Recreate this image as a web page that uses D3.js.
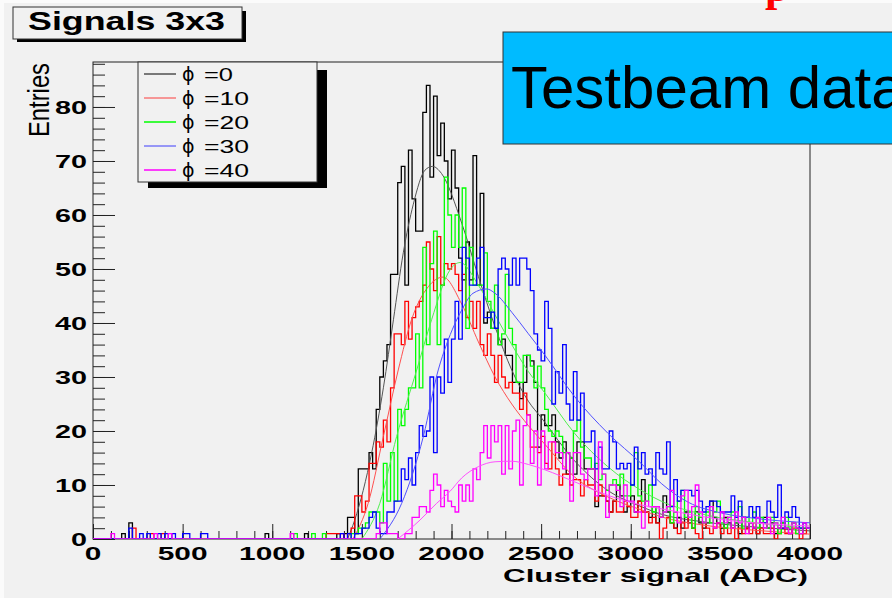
<!DOCTYPE html>
<html>
<head>
<meta charset="utf-8">
<script src="https://cdn.jsdelivr.net/npm/d3@7"></script>
<style>
  body { margin: 0; background: #f1f1f1; }
  svg { display: block; }
</style>
</head>
<body>
<div id="chart"></div>
<script>
// bins are 20 ADC wide, main arrays start at 1300 ADC
var binWidth = 20;
var mainStart = 1300;
var seriesNames = ["\u03d5 =0", "\u03d5 =10", "\u03d5 =20", "\u03d5 =30", "\u03d5 =40"];
var seriesLabels = ["=0", "=10", "=20", "=30", "=40"];
var seriesColors = ["#000000", "#ff0000", "#00ff00", "#0000ff", "#ff00ff"];
var fitColors = ["#555555", "#ff5050", "#50ee50", "#5050ff", "#ff50ff"];

var xTickLabels = [0, 500, 1000, 1500, 2000, 2500, 3000, 3500, 4000];
var yTickLabels = [0, 10, 20, 30, 40, 50, 60, 70, 80];

// sparse counts below 1300 ADC: [bin start, entries]
var lowPhi0 = [[160,1],[200,3],[960,1],[1180,1]];
var lowPhi10 = [[220,2],[320,1],[380,1]];
var lowPhi20 = [[1120,1],[1220,1],[1280,1]];
var lowPhi30 = [[200,2],[260,1],[300,1],[360,1],[400,1],[440,1],[500,1],[520,1],[600,1],[620,1]];
var lowPhi40 = [[100,1],[340,1],[420,1],[1100,1]];

var phi0 = [
  0,0,0,1,0,1,4,4,1,13,
  13,13,16,13,24,30,33,36,49,49,
  66,69,47,72,63,57,57,79,84,67,
  82,71,77,70,63,72,65,52,48,55,
  48,71,47,64,40,42,39,39,36,37,
  34,34,29,29,26,29,34,33,29,17,
  23,21,21,23,18,15,18,12,15,12,
  18,18,13,13,13,6,8,8,7,5,
  7,10,8,5,6,8,5,7,11,5,
  4,6,3,4,8,5,3,2,4,2,
  5,3,2,5,3,2,3,7,4,3,
  2,4,3,2,3,1,4,2,3,2,
  1,3,4,2,3,1,2,3,2,1,
  3,2,1,2,2];
var phi10 = [
  1,1,1,1,1,0,1,2,8,8,
  5,7,14,14,18,17,22,18,28,38,
  38,36,44,37,41,43,44,47,55,50,
  46,56,47,51,50,51,49,46,49,41,
  44,39,44,36,34,38,34,29,34,30,
  28,29,27,27,24,27,23,17,17,16,
  19,14,13,18,13,10,12,12,10,11,
  11,8,11,10,10,7,10,8,7,5,
  7,5,5,7,6,4,4,7,5,5,
  3,4,3,0,2,4,3,2,1,3,
  2,4,2,1,0,3,2,1,2,3,
  1,2,1,2,0,2,1,2,1,3,
  1,2,1,1,2,0,1,2,1,1,
  2,1,0,1,2];
var phi20 = [
  0,0,0,0,0,0,0,1,1,2,
  2,3,5,5,5,3,14,7,16,7,
  24,21,24,28,28,38,28,54,36,51,
  57,36,47,67,60,54,60,54,65,39,
  54,47,47,47,53,44,39,47,36,38,
  49,39,36,29,29,34,34,32,28,32,
  28,24,20,19,20,19,16,16,15,20,
  22,17,15,15,13,14,11,12,9,10,
  11,10,12,8,8,10,16,8,7,7,
  10,5,6,4,5,6,3,5,7,9,
  4,5,2,6,4,3,5,3,5,7,
  3,2,4,5,3,6,2,4,3,5,
  2,4,3,2,4,3,1,3,4,2,
  3,1,2,3,2];
var phi30 = [
  0,0,0,0,1,0,1,0,1,1,
  2,2,4,5,2,1,1,5,5,7,
  7,13,11,15,10,16,21,19,20,30,
  16,30,27,37,29,37,44,37,54,52,
  47,47,52,54,41,41,42,39,50,52,
  50,47,52,47,52,52,50,46,38,35,
  33,44,39,25,31,27,36,25,22,31,
  22,27,18,18,20,13,17,13,13,20,
  18,13,14,13,14,10,17,13,16,12,
  13,10,16,13,12,18,6,11,7,9,
  9,9,8,9,7,5,6,7,7,6,
  5,5,5,8,4,7,4,4,6,4,
  6,3,3,7,5,4,10,2,5,4,
  6,4,2,3,2];
var phi40 = [
  0,0,0,0,0,0,0,0,0,0,
  0,0,0,0,1,3,3,1,1,1,
  0,0,1,1,4,4,6,6,5,9,
  12,10,6,9,7,6,5,10,7,10,
  7,13,11,16,21,15,21,18,21,12,
  21,13,20,22,10,21,23,14,20,10,
  20,13,18,18,16,16,13,16,7,16,
  16,12,11,13,13,8,18,12,4,10,
  10,9,6,10,7,7,5,5,2,7,
  6,6,6,4,5,6,9,5,3,8,
  9,4,6,10,5,3,4,6,2,3,
  5,3,4,2,5,3,4,1,3,2,
  4,3,2,4,1,3,2,4,2,1,
  3,2,1,3,2];

// fitted curves as [ADC, entries]
var fitPhi0 = [[1420,0],[1460,3.5],[1555,16],[1620,28],[1676,40.6],[1731,53],[1787,62],[1852,68.3],[1894,69],[1944,67.7],[2057,58.5],[2150,48.6],[2243,39.3],[2336,31.3],[2429,25.5],[2500,22.5],[2686,14.5],[2872,9],[3058,6],[3170,4.6],[3400,3.2],[3700,2.2],[4000,1.5]];
var fitPhi10 = [[1450,0],[1535,6.6],[1620,19],[1703,31.3],[1777,40.6],[1870,46.7],[1953,48.5],[2057,43.5],[2150,36.5],[2243,30],[2336,25],[2429,21],[2522,17.5],[2686,11.5],[2872,7.8],[3058,5.4],[3170,4.1],[3400,2.6],[3700,1.6],[4000,0.9]];
var fitPhi20 = [[1500,0],[1600,6.6],[1694,19],[1806,31.3],[1889,40.6],[1991,49.8],[2048,51.2],[2150,47],[2243,41.5],[2336,36],[2429,31],[2522,27],[2686,19.6],[2872,13.4],[3058,9],[3170,7],[3400,4.6],[3700,3],[4000,2]];
var fitPhi30 = [[1600,0],[1722,6.6],[1843,19],[1926,31.3],[1972,36],[2057,42.4],[2120,45.5],[2196,46.3],[2243,45.5],[2336,42],[2429,38],[2522,34],[2686,26.4],[2872,19.6],[3058,14],[3170,10.3],[3321,6.8],[3507,4.8],[3700,3.8],[4000,3]];
var fitPhi40 = [[1700,0],[1824,3.5],[1917,6.6],[1991,8.8],[2057,11.3],[2150,13.4],[2243,14.3],[2336,14.4],[2429,13.8],[2522,12.8],[2686,10.6],[2872,8.1],[3058,6.3],[3170,5.6],[3507,3.6],[4000,2.4]];

var mainData = [phi0, phi10, phi20, phi30, phi40];
var lowData = [lowPhi0, lowPhi10, lowPhi20, lowPhi30, lowPhi40];
var fitData = [fitPhi0, fitPhi10, fitPhi20, fitPhi30, fitPhi40];

function buildBins(main, low) {
  var counts = d3.range(0, 4000, binWidth).map(function(a) { return [a, 0]; });
  low.forEach(function(p) { counts[p[0] / binWidth][1] = p[1]; });
  main.forEach(function(v, i) { counts[mainStart / binWidth + i][1] = v; });
  counts.push([4000, counts[counts.length - 1][1]]);
  return counts;
}

function chart() {
  var w = 892;
  var h = 598;
  var left = 93, right = 810, top = 62, bottom = 539;

  var svg = d3.select("#chart")
              .append("svg")
              .attr("width", w)
              .attr("height", h);

  svg.append("rect").attr("width", w).attr("height", h).attr("fill", "#f1f1f1");
  // thin light strips at the picture edge
  svg.append("rect").attr("width", w).attr("height", 3).attr("fill", "#fbfbfb");
  svg.append("rect").attr("width", 4).attr("height", h).attr("fill", "#fbfbfb");

  var x = d3.scaleLinear().domain([0, 4000]).range([left, right]);
  var y = d3.scaleLinear().domain([0, 88.33]).range([bottom, top]);

  svg.append("defs").append("clipPath").attr("id", "plot")
     .append("rect").attr("x", left).attr("y", top)
     .attr("width", right - left).attr("height", bottom - top);

  // frame
  svg.append("rect")
     .attr("x", left).attr("y", top)
     .attr("width", right - left).attr("height", bottom - top)
     .attr("fill", "none").attr("stroke", "#222").attr("stroke-width", 1);

  // y ticks point into the frame
  var yMinor = d3.axisRight(y).tickValues(d3.range(0, 89, 2)).tickSize(12).tickFormat("");
  var yMajor = d3.axisRight(y).tickValues(yTickLabels).tickSize(22).tickFormat("");
  [yMinor, yMajor].forEach(function(ax) {
    var g = svg.append("g").attr("transform", "translate(" + left + ",0)").call(ax);
    g.select(".domain").remove();
    g.selectAll("line").attr("stroke", "#222");
  });
  var xMinor = d3.axisTop(x).tickValues(d3.range(0, 4001, 100)).tickSize(8).tickFormat("");
  var xMajor = d3.axisTop(x).tickValues(xTickLabels).tickSize(15).tickFormat("");
  [xMinor, xMajor].forEach(function(ax) {
    var g = svg.append("g").attr("transform", "translate(0," + bottom + ")").call(ax);
    g.select(".domain").remove();
    g.selectAll("line").attr("stroke", "#222");
  });

  // tick labels (bold and wide, as in the picture)
  svg.selectAll(".ylab").data(yTickLabels).enter().append("text")
     .attr("x", 87).attr("y", function(d) { return y(d) + 7; })
     .attr("text-anchor", "end")
     .attr("font-family", "Liberation Sans, Arial, sans-serif")
     .attr("font-weight", "bold").attr("font-size", 19)
     .attr("textLength", function(d) { return String(d).length * 16; })
     .attr("lengthAdjust", "spacingAndGlyphs")
     .text(function(d) { return d; });
  svg.selectAll(".xlab").data(xTickLabels).enter().append("text")
     .attr("x", function(d) { return x(d); }).attr("y", 560)
     .attr("text-anchor", "middle")
     .attr("font-family", "Liberation Sans, Arial, sans-serif")
     .attr("font-weight", "bold").attr("font-size", 19)
     .attr("textLength", function(d) { return String(d).length * 16.6; })
     .attr("lengthAdjust", "spacingAndGlyphs")
     .text(function(d) { return d; });

  svg.append("text")
     .attr("x", 808).attr("y", 582)
     .attr("text-anchor", "end")
     .attr("font-family", "Liberation Sans, Arial, sans-serif")
     .attr("font-weight", "bold").attr("font-size", 19)
     .attr("textLength", 305).attr("lengthAdjust", "spacingAndGlyphs")
     .text("Cluster signal (ADC)");

  svg.append("text")
     .attr("transform", "translate(49,63) rotate(-90)")
     .attr("text-anchor", "end")
     .attr("font-family", "Liberation Sans, Arial, sans-serif")
     .attr("font-size", 30)
     .attr("textLength", 74).attr("lengthAdjust", "spacingAndGlyphs")
     .text("Entries");

  // histograms with their fits
  var step = d3.line()
               .x(function(d) { return x(d[0]); })
               .y(function(d) { return y(d[1]); })
               .curve(d3.curveStepAfter);
  var smooth = d3.line()
                 .x(function(d) { return x(d[0]); })
                 .y(function(d) { return y(d[1]); })
                 .curve(d3.curveMonotoneX);
  var plot = svg.append("g").attr("clip-path", "url(#plot)");
  for (var i = 0; i < mainData.length; i++) {
    plot.append("path")
        .attr("d", step(buildBins(mainData[i], lowData[i])))
        .attr("fill", "none")
        .attr("stroke", seriesColors[i])
        .attr("stroke-width", 1.3);
    plot.append("path")
        .attr("d", smooth(fitData[i]))
        .attr("fill", "none")
        .attr("stroke", fitColors[i])
        .attr("stroke-width", 1);
  }

  // title box
  svg.append("rect").attr("x", 17).attr("y", 11).attr("width", 229).attr("height", 31).attr("fill", "#000");
  svg.append("rect").attr("x", 13).attr("y", 7).attr("width", 229).attr("height", 32)
     .attr("fill", "#f1f1f1").attr("stroke", "#333");
  svg.append("text")
     .attr("x", 28).attr("y", 30)
     .attr("font-family", "Liberation Sans, Arial, sans-serif")
     .attr("font-weight", "bold").attr("font-size", 25)
     .attr("textLength", 197).attr("lengthAdjust", "spacingAndGlyphs")
     .text("Signals 3x3");

  // legend
  svg.append("rect").attr("x", 148).attr("y", 70).attr("width", 179).attr("height", 118).attr("fill", "#000");
  svg.append("rect").attr("x", 138).attr("y", 62).attr("width", 179).attr("height", 120)
     .attr("fill", "#f1f1f1").attr("stroke", "#333");
  var legend = svg.selectAll(".leg").data(seriesNames).enter().append("g")
                  .attr("transform", function(d, i) { return "translate(0," + (74 + i * 24) + ")"; });
  legend.append("line")
        .attr("x1", 144).attr("x2", 176)
        .attr("stroke", function(d, i) { return seriesColors[i]; })
        .attr("stroke-width", function(d, i) { return i == 2 || i == 4 ? 2 : 1; })
        .attr("opacity", function(d, i) { return i == 0 ? 1 : 0.75; });
  legend.append("text")
        .attr("x", 182).attr("y", 7)
        .attr("font-family", "DejaVu Sans, sans-serif")
        .attr("font-size", 19)
        .text("\u03d5");
  legend.append("text")
        .attr("x", 204).attr("y", 7)
        .attr("font-family", "Liberation Sans, Arial, sans-serif")
        .attr("font-size", 18)
        .attr("textLength", function(d, i) { return seriesLabels[i].length == 2 ? 29 : 45; })
        .attr("lengthAdjust", "spacingAndGlyphs")
        .text(function(d, i) { return seriesLabels[i]; });

  // Testbeam data label
  svg.append("rect").attr("x", 503).attr("y", 32).attr("width", 400).attr("height", 112)
     .attr("fill", "#00bbff").attr("stroke", "#333");
  svg.append("text")
     .attr("x", 511).attr("y", 108)
     .attr("font-family", "Liberation Sans, Arial, sans-serif")
     .attr("font-size", 60)
     .text("Testbeam data");

  // piece of red text cut by the top edge
  svg.append("text")
     .attr("x", 765).attr("y", 1)
     .attr("font-family", "Liberation Serif, serif")
     .attr("font-weight", "bold")
     .attr("font-size", 44)
     .attr("fill", "#ff0000")
     .text("p");
}

window.onload = function() {
  chart();
};
</script>
</body>
</html>
